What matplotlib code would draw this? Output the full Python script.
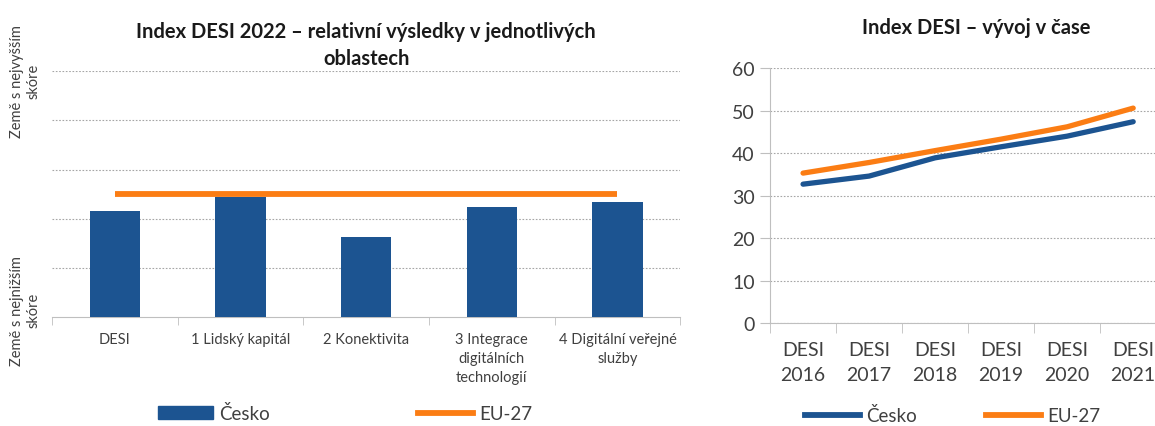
import numpy as np
import matplotlib.pyplot as plt
from matplotlib.patches import Patch
from matplotlib.lines import Line2D

plt.rcParams['font.family'] = ['Lato', 'DejaVu Sans']

# Left chart: relative results by area (0 = lowest, 100 = highest country)
areas = ['DESI', '1 Lidský kapitál', '2 Konektivita',
         '3 Integrace\ndigitálních\ntechnologií', '4 Digitální veřejné\nslužby']
cesko_areas = [43, 49, 32.5, 44.7, 46.8]
eu_areas = [50, 50, 50, 50, 50]

# Right chart: DESI index over time
years = ['DESI\n2016', 'DESI\n2017', 'DESI\n2018', 'DESI\n2019', 'DESI\n2020', 'DESI\n2021']
cesko_time = [32.7, 34.6, 38.9, 41.5, 44.0, 47.4]
eu_time = [35.3, 37.8, 40.6, 43.3, 46.2, 50.6]

blue = '#1c5491'
orange = '#fb7d14'
grid_c = '#a6a6a6'
tick_c = '#404040'

fig = plt.figure(figsize=(11.55, 4.27), dpi=100)

# ---- left chart
ax1 = fig.add_axes([0.045, 0.255, 0.544, 0.576])
x = np.arange(len(areas))
ax1.bar(x, cesko_areas, width=0.4, color=blue, zorder=3)
ax1.plot(x, eu_areas, color=orange, lw=4.2, solid_capstyle='butt', zorder=4)
ax1.set_xlim(-0.5, len(areas) - 0.5)
ax1.set_ylim(0, 100)
ax1.set_yticks([20, 40, 60, 80, 100])
ax1.set_yticklabels([])
ax1.tick_params(axis='y', length=0)
ax1.yaxis.grid(True, color=grid_c, ls=(0, (1.5, 1.5)), lw=0.8)
ax1.set_axisbelow(True)
ax1.set_xticks(x)
ax1.set_xticklabels(areas, fontsize=10.5, color=tick_c, linespacing=1.45)
ax1.tick_params(axis='x', which='major', length=0, pad=11)
ax1.set_xticks(np.arange(-0.5, len(areas)), minor=True)
ax1.tick_params(axis='x', which='minor', length=6, color='#bfbfbf', direction='out')
for s in ['top', 'right', 'left']:
    ax1.spines[s].set_visible(False)
ax1.spines['bottom'].set_color('#bfbfbf')
ax1.set_title('Index DESI 2022 – relativní výsledky v jednotlivých\noblastech',
              fontsize=14.5, fontweight='bold', color='#1a1a1a', pad=5, linespacing=1.45)

fig.text(0.022, 0.81, 'Země s nejvyšším\nskóre', rotation=90, ha='center', va='center',
         fontsize=10.5, color=tick_c, linespacing=1.25)
fig.text(0.022, 0.272, 'Země s nejnižším\nskóre', rotation=90, ha='center', va='center',
         fontsize=10.5, color=tick_c, linespacing=1.25)

h1 = [Patch(color=blue), Line2D([], [], color=orange, lw=4.2)]
fig.legend(h1, ['Česko', 'EU-27'], loc='center', bbox_to_anchor=(0.299, 0.03), ncol=2,
           frameon=False, fontsize=13.5, handlelength=2.9, handleheight=0.7,
           handletextpad=0.35, columnspacing=7.9, labelcolor=tick_c,
           borderpad=0.1)

# ---- right chart
ax2 = fig.add_axes([0.6667, 0.241, 0.343, 0.597])
t = np.arange(len(years))
ax2.plot(t, cesko_time, color=blue, lw=3.8, solid_capstyle='round', zorder=3)
ax2.plot(t, eu_time, color=orange, lw=3.8, solid_capstyle='round', zorder=3)
ax2.set_xlim(-0.5, len(years) - 0.5)
ax2.set_ylim(0, 60)
ax2.set_yticks(range(0, 61, 10))
ax2.tick_params(axis='y', labelsize=14, colors=tick_c, length=7, color='#bfbfbf', pad=4)
ax2.yaxis.grid(True, color=grid_c, ls=(0, (1.5, 1.5)), lw=0.8)
ax2.set_axisbelow(True)
ax2.set_xticks(t)
ax2.set_xticklabels(years, fontsize=14, color=tick_c, linespacing=1.55)
ax2.tick_params(axis='x', which='major', length=0, pad=13)
ax2.set_xticks(np.arange(-0.5, len(years)), minor=True)
ax2.tick_params(axis='x', which='minor', length=7, color='#bfbfbf', direction='out')
for s in ['top', 'right']:
    ax2.spines[s].set_visible(False)
ax2.spines['bottom'].set_color('#bfbfbf')
ax2.spines['left'].set_color('#bfbfbf')
ax2.set_title('Index DESI – vývoj v čase', fontsize=14.5, fontweight='bold',
              color='#1a1a1a', pad=25, x=0.52)

h2 = [Line2D([], [], color=blue, lw=4.2), Line2D([], [], color=orange, lw=4.2)]
fig.legend(h2, ['Česko', 'EU-27'], loc='center', bbox_to_anchor=(0.825, 0.025), ncol=2,
           frameon=False, fontsize=13.5, handlelength=2.9,
           handletextpad=0.35, columnspacing=3.7, labelcolor=tick_c,
           borderpad=0.1)

fig.savefig('out.png', dpi=100)
